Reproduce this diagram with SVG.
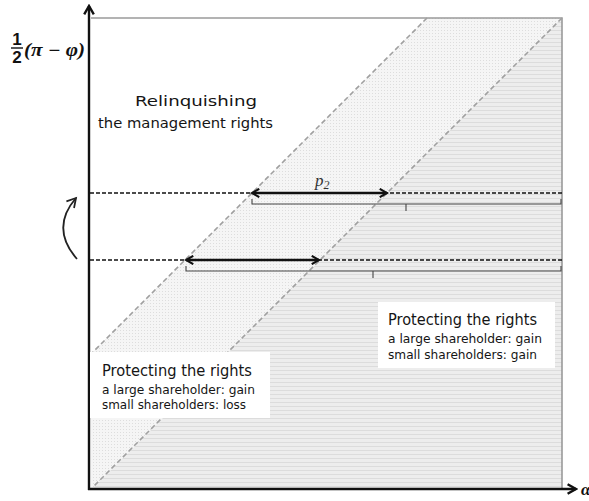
<svg xmlns="http://www.w3.org/2000/svg" width="589" height="501" viewBox="0 0 589 501">
<style>
.diag{stroke:#a0a0a0;stroke-width:1.6;stroke-dasharray:5 3;fill:none}
.hd{stroke:#111;stroke-width:1.6;stroke-dasharray:4 2;fill:none}
.brk{stroke:#444;stroke-width:1.1;fill:none}
.dbl{stroke:#111;stroke-width:2.6;fill:none;marker-start:url(#ah);marker-end:url(#ah)}
.axis{stroke:#111;stroke-width:2.4;fill:none}
.lbl{font-family:"DejaVu Sans","Liberation Sans",sans-serif;fill:#151515}
.math{font-family:"Liberation Serif","DejaVu Serif",serif;font-weight:bold;font-style:italic;fill:#111}
</style>
<defs>
<pattern id="dots" width="3" height="3" patternUnits="userSpaceOnUse">
<rect width="3" height="3" fill="#f5f5f5"/>
<rect width="1" height="1" fill="#dddddd"/>
</pattern>
<pattern id="stripes" width="4" height="4" patternUnits="userSpaceOnUse">
<rect width="4" height="4" fill="#ededed"/>
<rect y="2" width="4" height="1" fill="#dcdcdc"/>
</pattern>
<marker id="ah" viewBox="0 0 10 10" refX="8" refY="5" markerWidth="4" markerHeight="4" orient="auto-start-reverse" markerUnits="strokeWidth">
<path d="M1,1 L8,5 L1,9" fill="none" stroke="#111" stroke-width="2"/>
</marker>
<marker id="axh" viewBox="0 0 10 10" refX="8" refY="5" markerWidth="5" markerHeight="5" orient="auto" markerUnits="strokeWidth">
<path d="M1,1 L8,5 L1,9" fill="none" stroke="#111" stroke-width="2"/>
</marker>
<marker id="ch" viewBox="0 0 10 10" refX="8" refY="5" markerWidth="7" markerHeight="7" orient="auto" markerUnits="strokeWidth">
<path d="M1,1 L8,5 L1,9" fill="none" stroke="#222" stroke-width="1.4"/>
</marker>
</defs>

<g id="regions">
<polygon points="91,18 427,18 91,354" fill="#ffffff"/>
<polygon points="427,18 562,18 93,488 91,488 91,354" fill="url(#dots)"/>
<polygon points="562,18 562,488 93,488" fill="url(#stripes)"/>
<path d="M91,18 H562 V488" fill="none" stroke="#9a9a9a" stroke-width="1.6"/>
</g>

<g id="connectors">
<line class="diag" x1="427" y1="18" x2="91" y2="354"/>
<line class="diag" x1="562" y1="18" x2="93" y2="487"/>
<line class="hd" x1="90" y1="193" x2="562" y2="193"/>
<line class="hd" x1="90" y1="260" x2="562" y2="260"/>
<line class="dbl" x1="252" y1="193" x2="387" y2="193"/>
<line class="dbl" x1="186" y1="260" x2="319" y2="260"/>
<path class="brk" d="M252,199 V204 H561 V199 M406,204 V211"/>
<path class="brk" d="M186,266 V271 H561 V266 M373,271 V278"/>
<path d="M77,259 Q50,228 76,198" fill="none" stroke="#222" stroke-width="1.8" marker-end="url(#ch)"/>
</g>

<g id="axes">
<line class="axis" x1="89" y1="490" x2="89" y2="6" marker-end="url(#axh)"/>
<line class="axis" x1="88" y1="489" x2="576" y2="489" marker-end="url(#axh)"/>
<text class="math" x="581" y="495" font-size="17">α</text>
<g id="ylabel">
<text x="17" y="45" font-family="Liberation Sans,sans-serif" font-weight="bold" font-size="17" text-anchor="middle" fill="#111">1</text>
<line x1="11" y1="48" x2="23" y2="48" stroke="#111" stroke-width="1.4"/>
<text x="17" y="63" font-family="Liberation Sans,sans-serif" font-weight="bold" font-size="17" text-anchor="middle" fill="#111">2</text>
<text class="math" x="24" y="56" font-size="18" textLength="61" lengthAdjust="spacingAndGlyphs">(π − φ)</text>
</g>
<text x="315" y="186" font-family="Liberation Serif,serif" font-style="italic" font-size="17" fill="#333">p<tspan font-size="12" dy="3">2</tspan></text>
</g>

<g id="relinquish">
<text class="lbl" x="135" y="106" font-size="14" textLength="122" lengthAdjust="spacingAndGlyphs">Relinquishing</text>
<text class="lbl" x="98" y="128" font-size="14" textLength="175" lengthAdjust="spacingAndGlyphs">the management rights</text>
</g>

<g id="protect-left">
<rect x="90" y="352" width="180" height="66" fill="#ffffff"/>
<text class="lbl" x="102" y="376" font-size="15" textLength="150" lengthAdjust="spacingAndGlyphs">Protecting the rights</text>
<text class="lbl" x="102" y="394" font-size="12" textLength="153" lengthAdjust="spacingAndGlyphs">a large shareholder: gain</text>
<text class="lbl" x="102" y="409" font-size="12" textLength="144" lengthAdjust="spacingAndGlyphs">small shareholders: loss</text>
</g>

<g id="protect-right">
<rect x="378" y="302" width="177" height="66" fill="#ffffff"/>
<text class="lbl" x="388" y="325" font-size="15" textLength="149" lengthAdjust="spacingAndGlyphs">Protecting the rights</text>
<text class="lbl" x="388" y="343" font-size="12" textLength="154" lengthAdjust="spacingAndGlyphs">a large shareholder: gain</text>
<text class="lbl" x="388" y="359" font-size="12" textLength="149" lengthAdjust="spacingAndGlyphs">small shareholders: gain</text>
</g>
</svg>
